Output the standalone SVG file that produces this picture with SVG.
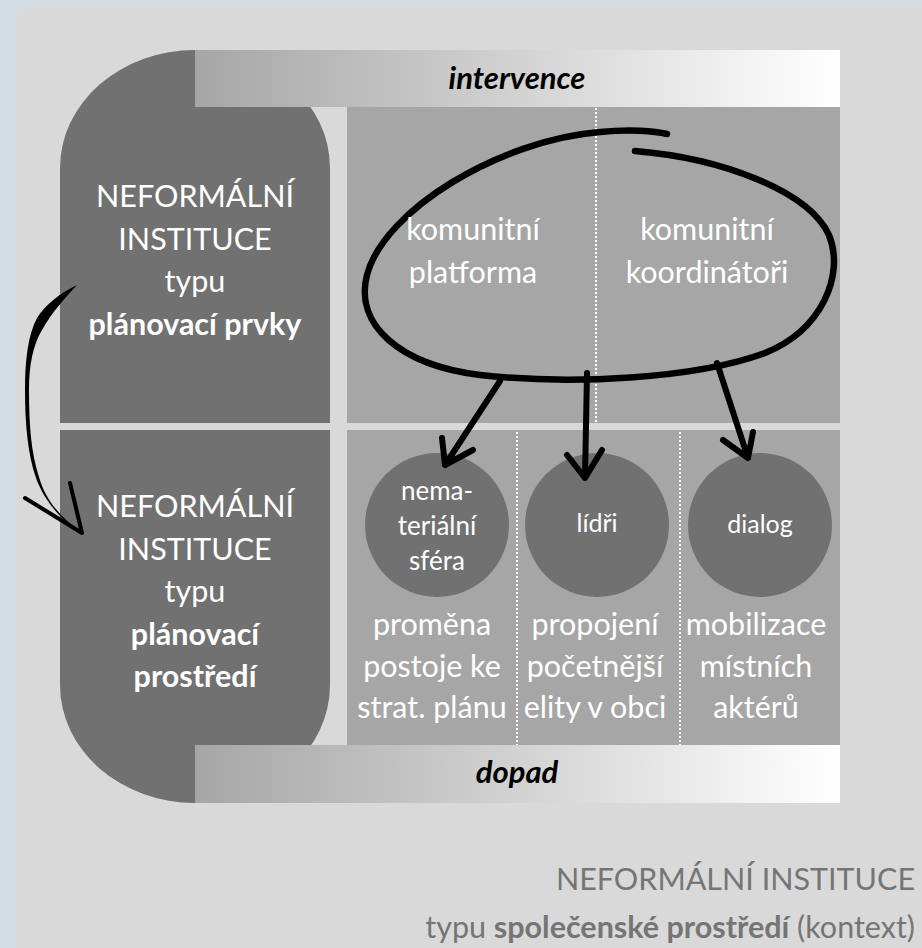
<svg xmlns="http://www.w3.org/2000/svg" width="922" height="948" viewBox="0 0 922 948">
<defs>
<linearGradient id="bar" x1="0" y1="0" x2="1" y2="0">
<stop offset="0" stop-color="#a6a6a6"/>
<stop offset="1" stop-color="#ffffff"/>
</linearGradient>
<style>
text{font-family:Lato,"Noto Sans",sans-serif;}
.w{fill:#ffffff;text-anchor:middle;}
.big{font-size:30.5px;}
.mid{font-size:25px;}
.mid2{font-size:26px;}
.b{font-weight:bold;}
.bar{font-size:31px;font-weight:bold;font-style:italic;fill:#000;text-anchor:middle;}
.dark{fill:#717171;}
.med{fill:#a6a6a6;}
.dot{stroke:#ffffff;stroke-width:2;stroke-dasharray:2 2;fill:none;}
.ink{stroke:#000;fill:none;stroke-linecap:round;stroke-linejoin:round;}
.ctx{font-size:30.5px;fill:#757575;text-anchor:end;}
</style>
</defs>
<rect x="0" y="0" width="922" height="948" fill="#d3dbe3"/>
<rect x="15" y="7" width="930" height="960" rx="22" fill="#d9d9d9"/>

<g id="left-block">
<rect class="dark" x="60" y="50" width="270" height="753" rx="135" ry="118"/>
</g>

<g id="intervence">
<rect x="195" y="50" width="645" height="57" fill="url(#bar)"/>
<text class="bar" x="517" y="89">intervence</text>
</g>

<g id="right-panel">
<rect class="med" x="347" y="107" width="493" height="638"/>
</g>

<rect x="60" y="423" width="780" height="7" fill="#d9d9d9"/>

<g id="dopad">
<rect x="195" y="745" width="645" height="58" fill="url(#bar)"/>
<text class="bar" x="517" y="783">dopad</text>
</g>

<g id="dividers">
<line class="dot" x1="596" y1="108" x2="596" y2="423"/>
<line class="dot" x1="517" y1="432" x2="517" y2="745"/>
<line class="dot" x1="680" y1="432" x2="680" y2="745"/>
</g>

<g id="planovaci-prvky">
<text class="w big" x="195" y="207">NEFORMÁLNÍ</text>
<text class="w big" x="195" y="250">INSTITUCE</text>
<text class="w big" x="195" y="292">typu</text>
<text class="w big b" x="195" y="335">plánovací prvky</text>
</g>

<g id="planovaci-prostredi">
<text class="w big" x="195" y="517">NEFORMÁLNÍ</text>
<text class="w big" x="195" y="560">INSTITUCE</text>
<text class="w big" x="195" y="602">typu</text>
<text class="w big b" x="195" y="645">plánovací</text>
<text class="w big b" x="195" y="687">prostředí</text>
</g>

<g id="ellipse">
<path class="ink" stroke-width="6.5" d="M 635 151 C 720 158, 808 190, 829 235 C 845 275, 822 330, 765 353 C 695 379, 570 385, 480 375 C 400 365, 354 325, 367 275 C 384 210, 500 140, 600 132 C 630 129, 655 131, 667 134"/>
<text class="w big" x="473" y="240">komunitní</text>
<text class="w big" x="473" y="283">platforma</text>
<text class="w big" x="707" y="240">komunitní</text>
<text class="w big" x="707" y="283">koordinátoři</text>
</g>

<g id="c1">
<circle class="dark" cx="437" cy="525" r="72"/>
<text class="w mid2" x="437" y="500">nema-</text>
<text class="w mid2" x="437" y="535">teriální</text>
<text class="w mid2" x="437" y="570">sféra</text>
</g>
<g id="c2">
<circle class="dark" cx="597" cy="525" r="72"/>
<text class="w mid" x="597" y="532">lídři</text>
</g>
<g id="c3">
<circle class="dark" cx="760" cy="525" r="72"/>
<text class="w mid" x="760" y="533">dialog</text>
</g>

<g id="t1">
<text class="w big" x="432" y="635">proměna</text>
<text class="w big" x="432" y="677">postoje ke</text>
<text class="w big" x="432" y="718">strat. plánu</text>
</g>
<g id="t2">
<text class="w big" x="595" y="635">propojení</text>
<text class="w big" x="595" y="677">početnější</text>
<text class="w big" x="595" y="718">elity v obci</text>
</g>
<g id="t3">
<text class="w big" x="756" y="635">mobilizace</text>
<text class="w big" x="756" y="677">místních</text>
<text class="w big" x="756" y="718">aktérů</text>
</g>

<g id="connectors">
<path class="ink" stroke-width="6" d="M 500 381 L 445 465 M 442 438 L 445 465 L 473 450"/>
<path class="ink" stroke-width="6" d="M 587 373 L 585 478 M 567 455 L 585 478 L 602 450"/>
<path class="ink" stroke-width="6" d="M 717 363 L 748 458 M 723 440 L 748 458 L 753 432"/>
<path fill="#000" d="M 77 285 C 60 293, 45 305, 37 318 C 28 335, 25 360, 25 390 C 25 425, 28 455, 36 478 C 46 505, 64 522, 83 534 C 62 518, 46 502, 39 477 C 31 452, 29 425, 29 390 C 29 365, 33 345, 42 330 C 52 312, 65 298, 77 285 Z"/>
<path class="ink" stroke-width="4" d="M 70 483 L 82 533 L 25 498"/>
</g>

<g id="context">
<text class="ctx" x="915" y="890">NEFORMÁLNÍ INSTITUCE</text>
<text class="ctx" x="915" y="938">typu <tspan font-weight="bold">společenské prostředí</tspan> (kontext)</text>
</g>
</svg>
